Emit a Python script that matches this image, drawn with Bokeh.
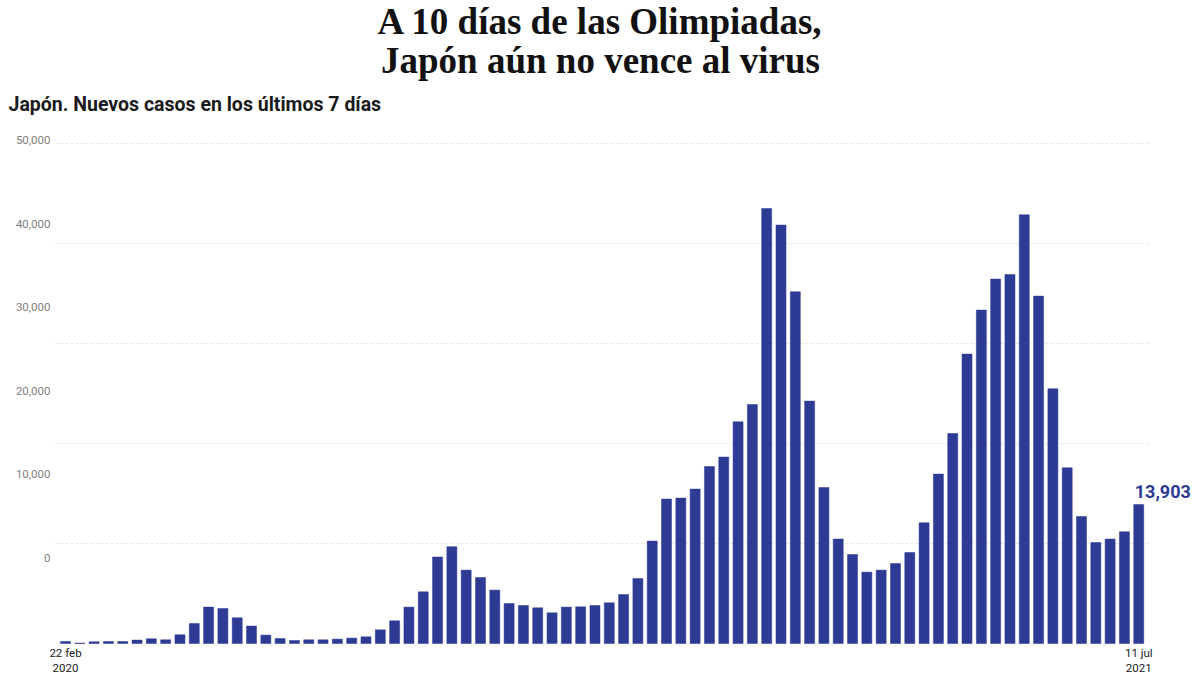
from bokeh.plotting import figure
from bokeh.models import Range1d, Label
from bokeh.core.properties import value
from bokeh.embed import file_html
from bokeh.resources import INLINE

# ---- data ----
weekly_cases = [200, 40, 170, 200, 200, 340, 470, 370, 870, 2000,
                3640, 3500, 2570, 1740, 840, 500, 300, 370, 370, 440,
                540, 670, 1370, 2270, 3640, 5170, 8650, 9680, 7340, 6600,
                5340, 4000, 3800, 3570, 3070, 3640, 3670, 3800, 4070, 4900,
                6500, 10240, 14440, 14540, 15440, 17700, 18640, 22170, 23900, 43500,
                41840, 35170, 24240, 15600, 10440, 8900, 7140, 7340, 8000, 9100,
                12070, 16940, 21000, 28940, 33340, 36440, 36900, 42870, 34740, 25470,
                17570, 12700, 10100, 10440, 11170, 13903]
week_index = list(range(len(weekly_cases)))
x_tick_labels = ["22 feb\n2020", "11 jul\n2021"]
y_ticks = [0, 10000, 20000, 30000, 40000, 50000]
y_tick_labels = ["0", "10,000", "20,000", "30,000", "40,000", "50,000"]
last_value_label = "13,903"
title_lines = ["A 10 días de las Olimpiadas,", "Japón aún no vence al virus"]
subtitle = "Japón. Nuevos casos en los últimos 7 días"

BAR = "#2d3b94"
W, H = 1200, 675

# ---- figure: frame spans the whole canvas ----
p = figure(width=W, height=H,
           x_range=Range1d(-4.542, 79.315),
           y_range=Range1d(-3200, 64300),
           output_backend="svg", toolbar_location=None,
           x_axis_location=None, y_axis_location=None,
           min_border=0, min_border_left=0, min_border_right=0,
           min_border_top=0, min_border_bottom=0,
           outline_line_color=None, background_fill_color="white",
           border_fill_color="white")
p.grid.visible = False

# scale used by the (offset) y tick labels of the reference
p.extra_y_ranges = {"lab": Range1d(-14072, 66766)}

# grid lines, spanning the bar area only
grid_x0, grid_x1 = -0.7, len(weekly_cases) - 0.2
p.segment(x0=grid_x0, x1=grid_x1, y0=y_ticks[1:], y1=y_ticks[1:],
          line_color="#e6e6e6", line_width=1, line_dash="3 2")

# bars
p.vbar(x=week_index, top=weekly_cases, width=0.7, bottom=0,
       fill_color=BAR, line_color=BAR, line_width=0.5)

# y tick labels
p.text(x=[-1.05] * len(y_ticks), y=y_ticks, text=y_tick_labels, y_range_name="lab",
       text_align="right", text_baseline="middle",
       text_font=value("Roboto"), text_font_size="11.5px", text_color="#808080")

# x tick labels
for xi, lab in zip([week_index[0], week_index[-1]], x_tick_labels):
    p.add_layout(Label(x=xi, y=0, y_offset=-2, text=lab,
                       text_align="center", text_baseline="top",
                       text_font="Roboto", text_font_size="11.5px",
                       text_color="#222222", text_line_height=1.1))

# last value label
p.add_layout(Label(x=week_index[-1], y=weekly_cases[-1], text=last_value_label,
                   x_offset=-4, y_offset=13, text_align="left", text_baseline="alphabetic",
                   text_font="Roboto", text_font_style="bold", text_font_size="18px",
                   text_color=BAR))

# titles (screen units, measured from the bottom-left corner of the canvas)
p.add_layout(Label(x=W / 2, y=H - 21, x_units="screen", y_units="screen", text=title_lines[0],
                   text_align="center", text_baseline="alphabetic",
                   text_font="Liberation Serif", text_font_style="bold",
                   text_font_size="37px", text_color="#111111"))
p.add_layout(Label(x=W / 2, y=H - 60, x_units="screen", y_units="screen", text=title_lines[1],
                   text_align="center", text_baseline="alphabetic",
                   text_font="Liberation Serif", text_font_style="bold",
                   text_font_size="37px", text_color="#111111"))
p.add_layout(Label(x=8, y=H - 104, x_units="screen", y_units="screen", text=subtitle,
                   text_align="left", text_baseline="alphabetic",
                   text_font="Roboto", text_font_style="bold",
                   text_font_size="19.5px", text_color="#1a1a1a"))

open("out.html", "w").write(file_html(p, INLINE))
